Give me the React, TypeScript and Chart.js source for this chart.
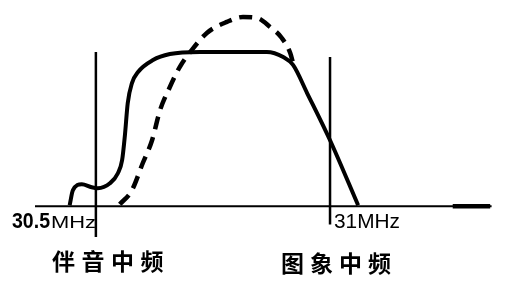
import React, { useEffect, useRef } from "react";
import { Chart, registerables } from "chart.js";

Chart.register(...registerables);

// Frequency (MHz) and relative response
const solidFreq = [30.444, 30.451, 30.470, 30.491, 30.504, 30.530, 30.547, 30.556, 30.562, 30.568, 30.577, 30.590, 30.622, 30.658, 30.722, 30.808, 30.865, 30.900, 30.921, 30.951, 31.000, 31.060];
const solidResp = [0.007, 0.105, 0.144, 0.124, 0.118, 0.150, 0.216, 0.301, 0.464, 0.673, 0.804, 0.876, 0.954, 0.993, 1.007, 1.007, 1.007, 0.974, 0.922, 0.739, 0.431, 0.007];

const dashFreq = [30.551, 30.577, 30.600, 30.620, 30.637, 30.658, 30.679, 30.705, 30.737, 30.780, 30.814, 30.844, 30.872, 30.897, 30.915, 30.921];
const dashResp = [0.013, 0.105, 0.281, 0.431, 0.627, 0.778, 0.908, 1.020, 1.131, 1.203, 1.235, 1.229, 1.170, 1.098, 1.000, 0.935];

const axisFreq = [30.37, 31.345];
const arrowFreq = [31.262, 31.342];
const soundMarker = { freq: 30.5, top: 1.006, bottom: -0.2 };
const pictureMarker = { freq: 31.0, top: 0.974, bottom: -0.118 };

const leftTick = ["30.5", "MHz"];
const rightTick = "31MHz";
const soundLabel = "伴音中频";
const pictureLabel = "图象中频";

const zip = (xs: number[], ys: number[]) => xs.map((x, i) => ({ x, y: ys[i] }));

function drawFit(ctx: CanvasRenderingContext2D, text: string, x: number, y: number, width: number) {
  const w = ctx.measureText(text).width;
  ctx.save();
  ctx.translate(x, y);
  ctx.scale(width / w, 1);
  ctx.fillText(text, 0, 0);
  ctx.restore();
}

export default function App() {
  const ref = useRef<HTMLCanvasElement>(null);
  useEffect(() => {
    const labelPlugin = {
      id: "labels",
      afterDraw(chart: any) {
        const ctx = chart.ctx as CanvasRenderingContext2D;
        ctx.save();
        ctx.fillStyle = "#000";
        ctx.textBaseline = "alphabetic";
        ctx.textAlign = "left";
        ctx.font = "bold 22px 'Liberation Sans'";
        drawFit(ctx, leftTick[0], 12, 228, 38);
        ctx.font = "17px 'Liberation Sans'";
        drawFit(ctx, leftTick[1], 51, 228, 45);
        ctx.font = "21px 'Liberation Sans'";
        drawFit(ctx, rightTick, 334, 228, 66);
        ctx.font = "bold 23px 'Noto Sans CJK SC'";
        ctx.textBaseline = "middle";
        Array.from(soundLabel).forEach((c, i) => ctx.fillText(c, 52 + i * 29.5, 261));
        Array.from(pictureLabel).forEach((c, i) => ctx.fillText(c, 281 + i * 29, 263));
        ctx.restore();
      },
    };
    const bg = {
      id: "bg",
      beforeDraw(chart: any) {
        const ctx = chart.ctx;
        ctx.save();
        ctx.fillStyle = "#fff";
        ctx.fillRect(0, 0, chart.width, chart.height);
        ctx.restore();
      },
    };
    const common = { pointRadius: 0, borderColor: "#000", fill: false };
    const chart = new Chart(ref.current!, {
      type: "line",
      data: {
        datasets: [
          { ...common, data: axisFreq.map((x) => ({ x, y: 0 })), borderWidth: 2 },
          { ...common, data: arrowFreq.map((x) => ({ x, y: 0 })), borderWidth: 4.5 },
          { ...common, data: [{ x: soundMarker.freq, y: soundMarker.top }, { x: soundMarker.freq, y: soundMarker.bottom }], borderWidth: 2.5 },
          { ...common, data: [{ x: pictureMarker.freq, y: pictureMarker.top }, { x: pictureMarker.freq, y: pictureMarker.bottom }], borderWidth: 2.5 },
          { ...common, data: zip(dashFreq, dashResp), borderWidth: 4.5, borderDash: [13, 8], cubicInterpolationMode: "monotone", borderCapStyle: "butt" },
          { ...common, data: zip(solidFreq, solidResp), borderWidth: 4, cubicInterpolationMode: "monotone" },
        ] as any,
      },
      options: {
        animation: false,
        responsive: false,
        devicePixelRatio: 1,
        layout: { padding: { left: 35, right: 18, top: 7, bottom: 56 } },
        plugins: { legend: { display: false }, tooltip: { enabled: false } },
        scales: {
          x: { type: "linear", min: 30.37, max: 31.348, display: false },
          y: { type: "linear", min: -0.2, max: 1.3, display: false },
        },
      },
      plugins: [bg, labelPlugin],
    });
    return () => chart.destroy();
  }, []);
  return (
    <div style={{ position: "fixed", left: 0, top: 0, width: 511, height: 293, background: "#fff" }}>
      <canvas ref={ref} width={511} height={293} style={{ display: "block" }} />
    </div>
  );
}
